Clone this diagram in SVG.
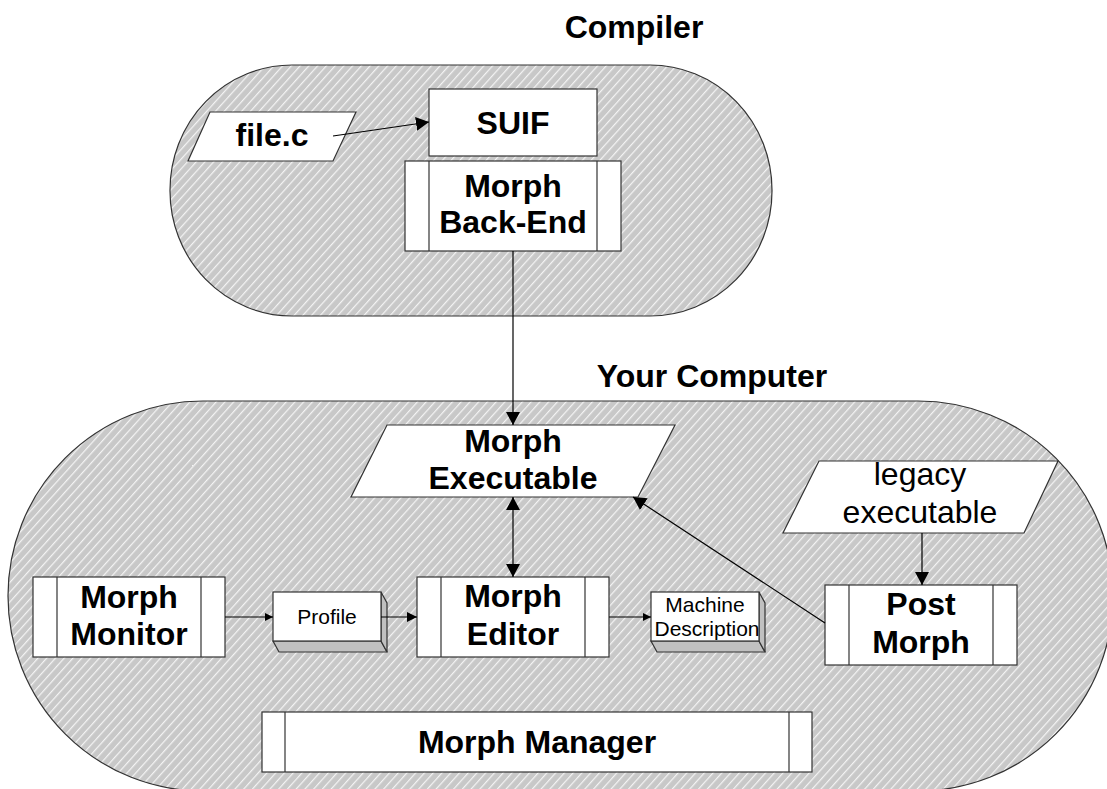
<svg xmlns="http://www.w3.org/2000/svg" width="1107" height="789" viewBox="0 0 1107 789">
<defs>
<pattern id="hatch" patternUnits="userSpaceOnUse" width="10" height="6.5" patternTransform="rotate(-48)">
<rect x="0" y="0" width="10" height="6.5" fill="#c8c8c8"/>
<rect x="0" y="0" width="10" height="1.2" fill="#f4f4f4"/>
</pattern>
<marker id="big" viewBox="0 0 13 14" refX="13" refY="7" markerWidth="13" markerHeight="14" orient="auto-start-reverse" markerUnits="userSpaceOnUse">
<path d="M0,0 L13,7 L0,14 z" fill="#000"/>
</marker>
<marker id="mid" viewBox="0 0 10 10" refX="10" refY="5" markerWidth="10" markerHeight="10" orient="auto" markerUnits="userSpaceOnUse">
<path d="M0,0 L10,5 L0,10 z" fill="#000"/>
</marker>
<marker id="small" viewBox="0 0 8 8" refX="8" refY="4" markerWidth="8" markerHeight="8" orient="auto" markerUnits="userSpaceOnUse">
<path d="M0,0 L8,4 L0,8 z" fill="#000"/>
</marker>
</defs>
<style>
.region{fill:url(#hatch);stroke:#333;stroke-width:1.2}
.box{fill:#fff;stroke:#333;stroke-width:1.2}
.side{fill:#c0c0c0;stroke:#333;stroke-width:1.2}
.ln{stroke:#333;stroke-width:1.2;fill:none}
.b{font-family:"Liberation Sans",Arial,sans-serif;font-weight:bold;font-size:32px;fill:#000;text-anchor:middle}
.r{font-family:"Liberation Sans",Arial,sans-serif;font-size:32px;fill:#000;text-anchor:middle}
.s{font-family:"Liberation Sans",Arial,sans-serif;font-size:21px;fill:#000;text-anchor:middle}
.conn{stroke:#000;stroke-width:1.2;fill:none}
</style>

<g id="compiler-region">
<rect class="region" x="170" y="65" width="602" height="251" rx="122" ry="125"/>
<text class="b" x="634" y="38">Compiler</text>
</g>
<g id="computer-region">
<rect class="region" x="8" y="401" width="1105" height="390" rx="195" ry="195"/>
<text class="b" x="712" y="387">Your Computer</text>
</g>

<g id="file-c">
<polygon class="box" points="210,112 356,112 333,161 188,161"/>
<text class="b" x="272" y="146">file.c</text>
</g>
<g id="suif">
<rect class="box" x="429" y="89" width="168" height="67"/>
<text class="b" x="513" y="134">SUIF</text>
</g>
<g id="morph-back-end">
<rect class="box" x="405" y="161" width="216" height="90"/>
<line class="ln" x1="429" y1="161" x2="429" y2="251"/>
<line class="ln" x1="597" y1="161" x2="597" y2="251"/>
<text class="b" x="513" y="197">Morph</text>
<text class="b" x="513" y="233">Back-End</text>
</g>

<g id="morph-executable">
<polygon class="box" points="387,425 675,425 638,497 351,497"/>
<text class="b" x="513" y="452">Morph</text>
<text class="b" x="513" y="489">Executable</text>
</g>
<g id="legacy-executable">
<polygon class="box" points="819,461 1058,461 1024,533 783,533"/>
<text class="r" x="920" y="485">legacy</text>
<text class="r" x="920" y="523">executable</text>
</g>
<g id="morph-monitor">
<rect class="box" x="33" y="577" width="192" height="80"/>
<line class="ln" x1="57" y1="577" x2="57" y2="657"/>
<line class="ln" x1="201" y1="577" x2="201" y2="657"/>
<text class="b" x="129" y="608">Morph</text>
<text class="b" x="129" y="645">Monitor</text>
</g>
<g id="profile">
<polygon class="side" points="273,641 381,641 387,652 279,652"/>
<polygon class="side" points="381,592 387,603 387,652 381,641"/>
<rect class="box" x="273" y="592" width="108" height="49"/>
<text class="s" x="327" y="624">Profile</text>
</g>
<g id="morph-editor">
<rect class="box" x="417" y="577" width="192" height="80"/>
<line class="ln" x1="441" y1="577" x2="441" y2="657"/>
<line class="ln" x1="585" y1="577" x2="585" y2="657"/>
<text class="b" x="513" y="607">Morph</text>
<text class="b" x="513" y="645">Editor</text>
</g>
<g id="machine-description">
<polygon class="side" points="651,641 759,641 765,652 657,652"/>
<polygon class="side" points="759,592 765,603 765,652 759,641"/>
<rect class="box" x="651" y="592" width="108" height="49"/>
<text class="s" x="705" y="612">Machine</text>
<text class="s" x="707" y="636">Description</text>
</g>
<g id="post-morph">
<rect class="box" x="825" y="585" width="192" height="80"/>
<line class="ln" x1="849" y1="585" x2="849" y2="665"/>
<line class="ln" x1="993" y1="585" x2="993" y2="665"/>
<text class="b" x="921" y="615">Post</text>
<text class="b" x="921" y="653">Morph</text>
</g>
<g id="morph-manager">
<rect class="box" x="262" y="712" width="550" height="60"/>
<line class="ln" x1="285" y1="712" x2="285" y2="772"/>
<line class="ln" x1="789" y1="712" x2="789" y2="772"/>
<text class="b" x="537" y="753">Morph Manager</text>
</g>

<g id="connectors">
<line class="conn" x1="333" y1="136" x2="429" y2="122" marker-end="url(#big)"/>
<line class="conn" x1="513" y1="251" x2="513" y2="425" marker-end="url(#big)"/>
<line class="conn" x1="513" y1="497" x2="513" y2="577" marker-start="url(#big)" marker-end="url(#big)"/>
<line class="conn" x1="225" y1="617" x2="273" y2="617" marker-end="url(#small)"/>
<line class="conn" x1="381" y1="617" x2="417" y2="617" marker-end="url(#mid)"/>
<line class="conn" x1="609" y1="617" x2="651" y2="617" marker-end="url(#small)"/>
<line class="conn" x1="922" y1="533" x2="922" y2="585" marker-end="url(#big)"/>
<line class="conn" x1="825" y1="623" x2="633" y2="497" marker-end="url(#big)"/>
</g>
</svg>
